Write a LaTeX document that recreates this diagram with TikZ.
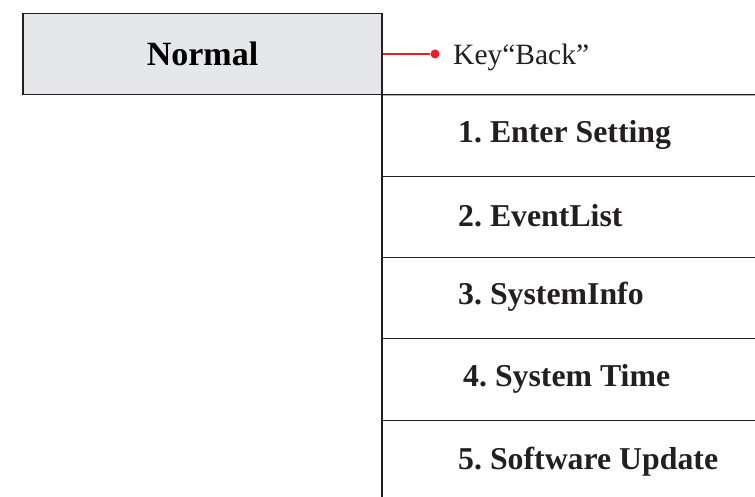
\documentclass[tikz,border=0pt]{standalone}
\usepackage{fontspec}
\setmainfont{Liberation Serif}
\usepackage{tikz}
\usetikzlibrary{positioning}
\frenchspacing

\definecolor{linegray}{HTML}{231F20}
\definecolor{boxgray}{HTML}{E6E7E9}
\definecolor{keyred}{HTML}{ED1C24}

\begin{document}
\begin{tikzpicture}[
      x=1pt, y=-1pt,
      rule/.style={draw=linegray, line width=1.3pt},
      statebox/.style={rule, fill=boxgray, outer sep=0pt, minimum width=359pt, minimum height=81.5pt, font=\fontsize{34}{40}\selectfont\bfseries},
      menuitem/.style={anchor=base west, inner sep=0pt, font=\fontsize{31.8}{36}\selectfont\bfseries, text=linegray},
      keydot/.style={circle, fill=keyred, inner sep=0pt, minimum size=9pt}
    ]
    \useasboundingbox (0,0) rectangle (755,497);

    \node[statebox] (normal) at (202.5,54) {Normal};
    \node[keydot] (dot) at (435,54) {};
    \node[anchor=base west, inner sep=0pt, font=\fontsize{29.5}{34}\selectfont, text=linegray] (key) at (453,65) {Key“Back”};
    \draw[keyred, line width=1.2pt] (normal.east) -- (dot);

    % menu column
    \draw[rule] (normal.north east) -- (382,497);
    \draw[rule] (normal.south east) -- (755,94.7);
    \draw[rule] (382,176.5) -- (755,176.5);
    \draw[rule] (382,257.5) -- (755,257.5);
    \draw[rule] (382,338.5) -- (755,338.5);
    \draw[rule] (382,420.5) -- (755,420.5);

    \node[menuitem] (enter) at (458,143) {1. Enter Setting};
    \node[menuitem] (events) at (458,226) {2. EventList};
    \node[menuitem] (sysinfo) at (458,304) {3. SystemInfo};
    \node[menuitem] (systime) at (463,386) {4. System Time};
    \node[menuitem] (update) at (458,469) {5. Software Update};
  \end{tikzpicture}
\end{document}
